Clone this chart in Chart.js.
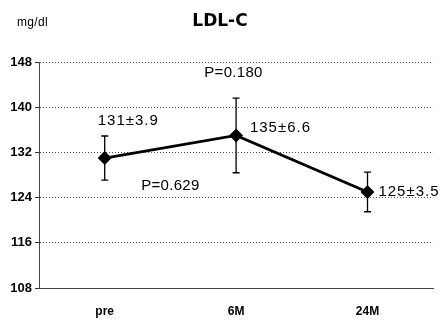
<!DOCTYPE html>
<html>
<head>
<meta charset="utf-8">
<script src="https://cdn.jsdelivr.net/npm/chart.js@4/dist/chart.umd.min.js"></script>
<style>
  html, body { margin: 0; padding: 0; background: #fff; }
  #wrap { width: 441px; height: 320px; }
</style>
</head>
<body>
<div id="wrap"><canvas id="ldlChart"></canvas></div>
<script>
var periods = ['pre', '6M', '24M'];
var ldlMean = [131, 135, 125];
var ldlSd = [3.9, 6.6, 3.5];
var yTicks = [108, 116, 124, 132, 140, 148];

// p-values sit between the time points (x = category index, y = value)
var pTexts = ['P=0.629', 'P=0.180'];
var pX = [0.5, 0.98];
var pY = [126.1, 146.1];

var ldlChart;

var errorBars = {
    id: 'errorBars',
    afterDatasetsDraw: function(chart){
        var ctx = chart.ctx;
        var xs = chart.scales.x;
        var ys = chart.scales.y;
        ctx.save();
        ctx.strokeStyle = '#000';
        ctx.lineWidth = 1.3;
        for (var i = 0; i < ldlMean.length; i++) {
            var x = xs.getPixelForValue(i);
            var top = ys.getPixelForValue(ldlMean[i] + ldlSd[i]);
            var bot = ys.getPixelForValue(ldlMean[i] - ldlSd[i]);
            ctx.beginPath();
            ctx.moveTo(x, top); ctx.lineTo(x, bot);
            ctx.moveTo(x - 3.5, top); ctx.lineTo(x + 3.5, top);
            ctx.moveTo(x - 3.5, bot); ctx.lineTo(x + 3.5, bot);
            ctx.stroke();
        }
        ctx.restore();
    }
};

var textLabels = {
    id: 'textLabels',
    afterDraw: function(chart){
        var ctx = chart.ctx;
        var xs = chart.scales.x;
        var ys = chart.scales.y;
        ctx.save();
        ctx.fillStyle = '#000';
        ctx.textBaseline = 'middle';
        ctx.font = '15px "Liberation Sans", Arial, sans-serif';

        // mean ± sd next to each point
        var dx = [-0.053, 0.105, 0.083];
        var dv = [6.6, 1.3, 0];
        ctx.letterSpacing = '1px';
        for (var i = 0; i < ldlMean.length; i++) {
            ctx.textAlign = 'left';
            ctx.fillText(ldlMean[i] + '\u00b1' + ldlSd[i].toFixed(1),
                xs.getPixelForValue(i + dx[i]),
                ys.getPixelForValue(ldlMean[i] + dv[i]));
        }
        ctx.letterSpacing = '0.3px';
        for (var j = 0; j < pTexts.length; j++) {
            ctx.textAlign = 'center';
            ctx.fillText(pTexts[j], xs.getPixelForValue(pX[j]), ys.getPixelForValue(pY[j]));
        }

        // title and unit
        ctx.letterSpacing = '0px';
        ctx.textAlign = 'center';
        ctx.font = 'bold 17px "DejaVu Sans", sans-serif';
        ctx.fillText('LDL-C', 220, 22);
        ctx.textAlign = 'left';
        ctx.font = '12px "Liberation Sans", Arial, sans-serif';
        ctx.letterSpacing = '0.3px';
        ctx.fillText('mg/dl', 17, 23);
        ctx.restore();
    }
};

function createLdlChart(){
    var ctx = document.getElementById('ldlChart').getContext('2d');
    var data = {
        labels: periods,
        datasets: [{
            data: ldlMean,
            borderColor: '#000',
            backgroundColor: '#000',
            borderWidth: 2.8,
            pointStyle: 'rectRot',
            pointRadius: 5,
            pointHoverRadius: 5,
            tension: 0
        }]
    };
    ldlChart = new Chart(ctx, {
        type: 'line',
        data: data,
        options: {
            responsive: true,
            maintainAspectRatio: false,
            animation: false,
            layout: { padding: { top: 62, right: 2, left: 0, bottom: 0 } },
            plugins: { legend: { display: false }, tooltip: { enabled: false } },
            scales: {
                x: {
                    offset: true,
                    grid: { display: false, drawTicks: false },
                    border: { display: true, color: '#444', dash: [1, 2], width: 1 },
                    ticks: {
                        padding: 16,
                        color: '#000',
                        font: { family: '"Liberation Sans", Arial, sans-serif', size: 12, weight: 'bold' }
                    },
                    afterFit: function(scale){ scale.height = 32; }
                },
                y: {
                    min: 108,
                    max: 148,
                    afterBuildTicks: function(scale){
                        scale.ticks = yTicks.map(function(v){ return { value: v }; });
                    },
                    grid: {
                        color: '#555',
                        lineWidth: 1,
                        tickLength: 4,
                        tickColor: '#333'
                    },
                    border: { display: true, color: '#444', dash: [1, 2], width: 1 },
                    ticks: {
                        padding: 3,
                        color: '#000',
                        font: { family: '"Liberation Sans", Arial, sans-serif', size: 13, weight: 'bold' }
                    },
                    afterFit: function(scale){ scale.width = 39; }
                }
            }
        },
        plugins: [errorBars, textLabels]
    });
}

Chart.defaults.scale.grid.borderDash = [2, 3];
createLdlChart();
</script>
</body>
</html>
